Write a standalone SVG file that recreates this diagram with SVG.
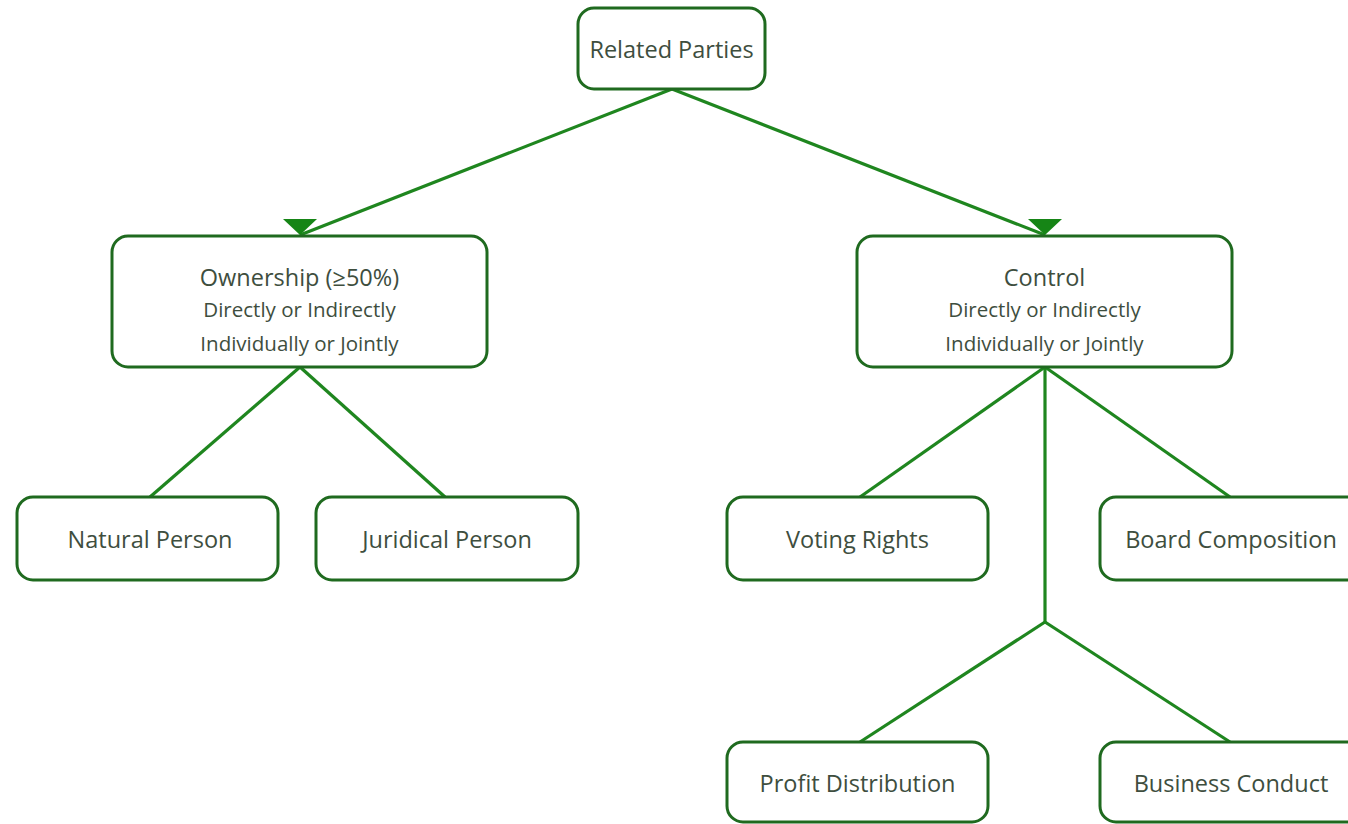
<svg xmlns="http://www.w3.org/2000/svg" width="1348" height="824" viewBox="0 0 1348 824">
  <style>
    .box { fill: #ffffff; stroke: #1f6a1f; stroke-width: 3; }
    .edge { fill: none; stroke: #1f861f; stroke-width: 3.2; }
    .lbl { font-family: "Open Sans", "Noto Sans", "DejaVu Sans", sans-serif; fill: #3e4e3e; text-anchor: middle; }
    .main { font-size: 23.5px; }
    .sub { font-size: 20.5px; }
  </style>
  <defs>
    <!-- downward-pointing head, fixed orientation regardless of line angle -->
    <marker id="headDown" markerUnits="userSpaceOnUse" markerWidth="16" markerHeight="34" viewBox="0 0 16 34" refX="16" refY="17" orient="90">
      <path d="M0,0 L16,17 L0,34 Z" fill="#168516"/>
    </marker>
  </defs>
  <rect width="1348" height="824" fill="#ffffff"/>

  <g id="connectors">
    <line class="edge" x1="672" y1="89" x2="300" y2="235" marker-end="url(#headDown)"/>
    <line class="edge" x1="672" y1="89" x2="1045" y2="235" marker-end="url(#headDown)"/>
    <line class="edge" x1="300" y1="367" x2="150" y2="497"/>
    <line class="edge" x1="300" y1="367" x2="445" y2="497"/>
    <line class="edge" x1="1045" y1="367" x2="860" y2="497"/>
    <line class="edge" x1="1045" y1="367" x2="1230" y2="497"/>
    <line class="edge" x1="1045" y1="367" x2="1045" y2="622"/>
    <line class="edge" x1="1045" y1="622" x2="860" y2="742"/>
    <line class="edge" x1="1045" y1="622" x2="1230" y2="742"/>
  </g>

  <g id="related-parties">
    <rect class="box" x="578" y="8" width="187" height="81" rx="16"/>
    <text class="lbl main" x="671.5" y="58">Related Parties</text>
  </g>

  <g id="ownership">
    <rect class="box" x="112" y="236" width="375" height="131" rx="16"/>
    <text class="lbl main" x="299.5" y="286">Ownership (≥50%)</text>
    <text class="lbl sub" x="299.5" y="317">Directly or Indirectly</text>
    <text class="lbl sub" x="299.5" y="351">Individually or Jointly</text>
  </g>

  <g id="control">
    <rect class="box" x="857" y="236" width="375" height="131" rx="16"/>
    <text class="lbl main" x="1044.5" y="286">Control</text>
    <text class="lbl sub" x="1044.5" y="317">Directly or Indirectly</text>
    <text class="lbl sub" x="1044.5" y="351">Individually or Jointly</text>
  </g>

  <g id="natural-person">
    <rect class="box" x="17" y="497" width="261" height="83" rx="16"/>
    <text class="lbl main" x="150" y="548">Natural Person</text>
  </g>

  <g id="juridical-person">
    <rect class="box" x="316" y="497" width="262" height="83" rx="16"/>
    <text class="lbl main" x="447" y="548">Juridical Person</text>
  </g>

  <g id="voting-rights">
    <rect class="box" x="727" y="497" width="261" height="83" rx="16"/>
    <text class="lbl main" x="857.5" y="548">Voting Rights</text>
  </g>

  <g id="board-composition">
    <rect class="box" x="1100" y="497" width="262" height="83" rx="16"/>
    <text class="lbl main" x="1231" y="548">Board Composition</text>
  </g>

  <g id="profit-distribution">
    <rect class="box" x="727" y="742" width="261" height="80" rx="16"/>
    <text class="lbl main" x="857.5" y="792">Profit Distribution</text>
  </g>

  <g id="business-conduct">
    <rect class="box" x="1100" y="742" width="262" height="80" rx="16"/>
    <text class="lbl main" x="1231" y="792">Business Conduct</text>
  </g>
</svg>
